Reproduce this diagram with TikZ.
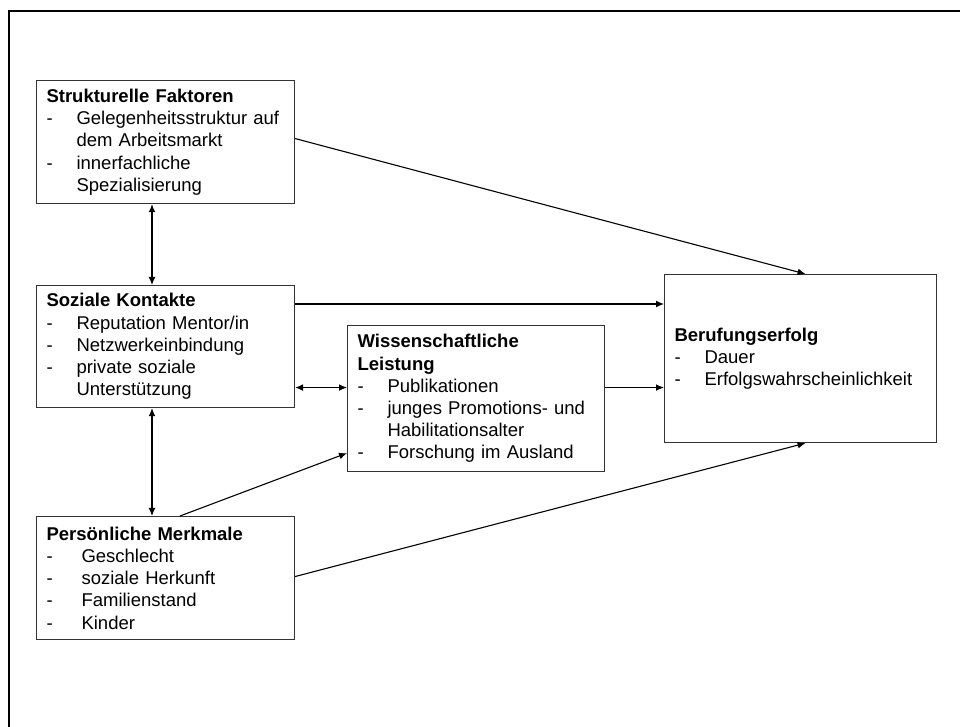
\documentclass[tikz,border=0pt]{standalone}
\usepackage{fontspec}
\setmainfont{Liberation Sans}
\usepackage{tikz}
\usetikzlibrary{arrows.meta,calc}

\newcommand{\dsh}{\makebox[15pt][l]{-}}
\newcommand{\dshw}{\makebox[17.5pt][l]{-}}
\newcommand{\ind}{\hspace*{15pt}}

\tikzset{
  factor/.style={draw=black!80, line width=0.55pt, anchor=north west, align=left,
    inner xsep=5pt, inner ysep=0pt, font=\fontsize{9.25}{11.1}\selectfont},
  link/.style={line width=0.55pt, -{Latex[length=4pt,width=3.4pt]}},
  both/.style={line width=0.55pt, {Latex[length=4pt,width=3.4pt]}-{Latex[length=4pt,width=3.4pt]}}
}

\begin{document}
\begin{tikzpicture}[x=0.5pt, y=-0.5pt]
\useasboundingbox (0,0) rectangle (960,727);
\draw[line width=1pt] (9,727) -- (9,11) -- (960,11); % Rahmen
% Faktoren
\node[factor, text width=119pt, minimum height=61.5pt] (strukt) at (36,80) {%
\textbf{Strukturelle Faktoren}\\
\dsh Gelegenheitsstruktur auf\\
\ind dem Arbeitsmarkt\\
\dsh innerfachliche\\
\ind Spezialisierung};
\node[factor, text width=119pt, minimum height=61pt] (sozial) at (36,285) {%
\textbf{Soziale Kontakte}\\
\dsh Reputation Mentor/in\\
\dsh Netzwerkeinbindung\\
\dsh private soziale\\
\ind Unterst\"utzung};
\node[factor, text width=119pt, minimum height=61.5pt] (person) at (36,516) {%
\textbf{Pers\"onliche Merkmale}\\
\dshw Geschlecht\\
\dshw soziale Herkunft\\
\dshw Familienstand\\
\dshw Kinder};
\node[factor, text width=118.5pt, minimum height=73pt] (wiss) at (347,325) {%
\textbf{Wissenschaftliche}\\
\textbf{Leistung}\\
\dsh Publikationen\\
\dsh junges Promotions- und\\
\ind Habilitationsalter\\
\dsh Forschung im Ausland};
\node[factor, text width=126pt, minimum height=84pt] (beruf) at (664,274) {%
\textbf{Berufungserfolg}\\
\dsh Dauer\\
\dsh Erfolgswahrscheinlichkeit};
% Pfeile
\coordinate (sk) at ([yshift=-9.5pt]sozial.north east);
\coordinate (wl) at ([yshift=5.5pt]wiss.west);
\draw[both] ([xshift=58pt]strukt.south west) -- ([xshift=58pt]sozial.north west);
\draw[both] ([xshift=58pt]sozial.south west) -- ([xshift=58pt]person.north west);
\draw[link] ([yshift=1.75pt]strukt.east) -- ([xshift=2.5pt]beruf.north);
\draw[link] (sk) -- (sk -| beruf.west);
\draw[both] (wl -| sozial.east) -- (wl);
\draw[link] (wl -| wiss.east) -- (wl -| beruf.west);
\draw[link] ([xshift=72pt]person.north west) -- ([yshift=9.5pt]wiss.south west);
\draw[link] ([yshift=0.75pt]person.east) -- ([xshift=2.5pt]beruf.south);
\end{tikzpicture}
\end{document}
